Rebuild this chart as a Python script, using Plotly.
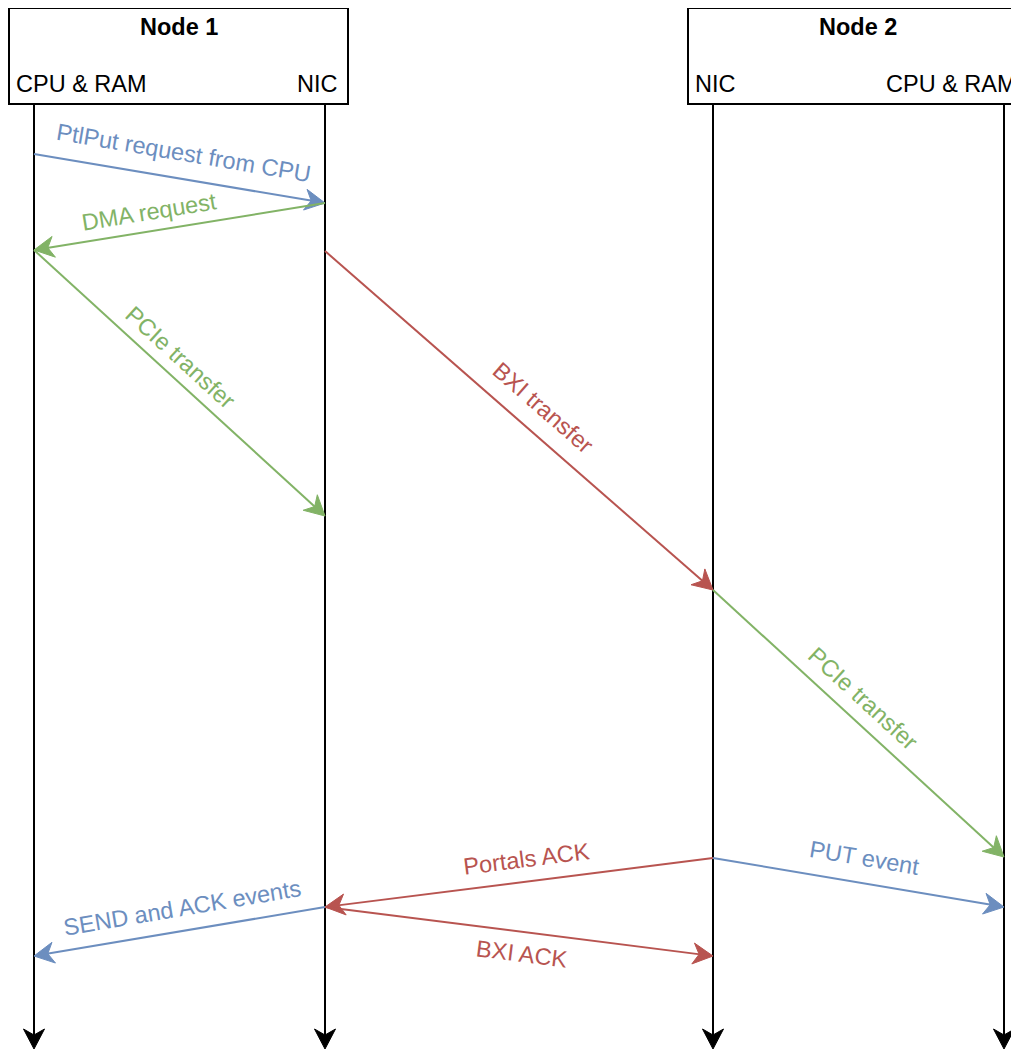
import math
import plotly.graph_objects as go

# ---------------- data ----------------
lane_names = ["CPU & RAM", "NIC", "NIC", "CPU & RAM"]
lane_x = [34, 325, 713, 1004]
node_titles = ["Node 1", "Node 2"]
node_lanes = [[0, 1], [2, 3]]

msg_labels = ["PtlPut request from CPU", "DMA request", "PCIe transfer",
              "BXI transfer", "PCIe transfer", "Portals ACK", "PUT event",
              "SEND and ACK events", "BXI ACK"]
msg_from = [0, 1, 0, 1, 2, 2, 2, 1, 1]
msg_to = [1, 0, 1, 2, 3, 1, 3, 0, 2]
msg_t0 = [154, 203, 250, 251, 590, 858, 858, 907, 907]
msg_t1 = [203, 250, 516, 590, 857, 907, 907, 956, 956]
msg_kind = ["cpu", "pcie", "pcie", "bxi", "pcie", "bxi", "cpu", "cpu", "bxi"]

# ---------------- style ----------------
kind_color = {"cpu": "#6C8EBF", "pcie": "#82B366", "bxi": "#B85450"}
# (offset along the line, offset perpendicular "up") for each label, px
label_shift = [(0, 26), (-28, 19.5), (-16, 19.5), (10, 25.5), (-13, 22),
               (10, 22.5), (2, 25.5), (6, 23), (6, -21.5)]
FONT = "Liberation Sans, Arial, Helvetica, sans-serif"
FS = 23.5
W, H = 1019, 1050
PAGE_OFF = 8  # default body margin of the html page
HEAD_TOP, HEAD_BOTTOM = 8, 104
LIFE_END = 1049
HEAD_LEN, HEAD_HALF, HEAD_NOTCH = 20, 10.5, 14
LW = 2

fig = go.Figure()
fig.add_trace(go.Scatter(x=[100], y=[100], mode="markers",
                         marker=dict(opacity=0), hoverinfo="skip",
                         showlegend=False))

shapes = []
annotations = []


def arrow(x0, y0, x1, y1, color):
    dx, dy = x1 - x0, y1 - y0
    L = math.hypot(dx, dy)
    ux, uy = dx / L, dy / L
    nx, ny = -uy, ux
    ex, ey = x1 - HEAD_NOTCH * ux, y1 - HEAD_NOTCH * uy
    shapes.append(dict(type="line", xref="x", yref="y", x0=x0, y0=y0,
                       x1=ex + ux, y1=ey + uy,
                       line=dict(color=color, width=LW)))
    bx, by = x1 - HEAD_LEN * ux, y1 - HEAD_LEN * uy
    p1 = (bx + HEAD_HALF * nx, by + HEAD_HALF * ny)
    p2 = (bx - HEAD_HALF * nx, by - HEAD_HALF * ny)
    path = "M {:.2f},{:.2f} L {:.2f},{:.2f} L {:.2f},{:.2f} L {:.2f},{:.2f} Z".format(
        x1, y1, p1[0], p1[1], ex, ey, p2[0], p2[1])
    shapes.append(dict(type="path", xref="x", yref="y", path=path,
                       fillcolor=color, line=dict(color=color, width=1)))


# node boxes and header texts
for title, lanes in zip(node_titles, node_lanes):
    left = lane_x[lanes[0]] - 25
    right = lane_x[lanes[-1]] + 23
    shapes.append(dict(type="rect", xref="x", yref="y", x0=left, x1=right,
                       y0=HEAD_TOP, y1=HEAD_BOTTOM,
                       line=dict(color="black", width=2),
                       fillcolor="white", layer="below"))
    annotations.append(dict(x=(left + right) / 2, y=27, xref="x", yref="y",
                            text="<b>" + title + "</b>", showarrow=False,
                            font=dict(family=FONT, size=FS, color="black"),
                            xanchor="center", yanchor="middle"))
    annotations.append(dict(x=left + 5, y=84, xref="x", yref="y",
                            text=lane_names[lanes[0]], showarrow=False,
                            font=dict(family=FONT, size=FS, color="black"),
                            xanchor="left", yanchor="middle"))
    annotations.append(dict(x=right - 8, y=84, xref="x", yref="y",
                            text=lane_names[lanes[-1]], showarrow=False,
                            font=dict(family=FONT, size=FS, color="black"),
                            xanchor="right", yanchor="middle"))

# lifelines
for lx in lane_x:
    arrow(lx, HEAD_BOTTOM, lx, LIFE_END, "black")

# messages
for i in range(len(msg_labels)):
    x0, y0 = lane_x[msg_from[i]], msg_t0[i]
    x1, y1 = lane_x[msg_to[i]], msg_t1[i]
    col = kind_color[msg_kind[i]]
    arrow(x0, y0, x1, y1, col)
    if x0 <= x1:
        pl, pr = (x0, y0), (x1, y1)
    else:
        pl, pr = (x1, y1), (x0, y0)
    dx, dy = pr[0] - pl[0], pr[1] - pl[1]
    L = math.hypot(dx, dy)
    ux, uy = dx / L, dy / L
    nx, ny = uy, -ux
    mx, my = (pl[0] + pr[0]) / 2, (pl[1] + pr[1]) / 2
    a, p = label_shift[i]
    cx = mx + a * ux + p * nx
    cy = my + a * uy + p * ny
    ang = math.degrees(math.atan2(dy, dx))
    annotations.append(dict(x=cx, y=cy, xref="x", yref="y",
                            text=msg_labels[i], showarrow=False,
                            textangle=ang,
                            font=dict(family=FONT, size=FS, color=col),
                            xanchor="center", yanchor="middle"))

fig.update_layout(
    width=W, height=H,
    margin=dict(l=0, r=0, t=0, b=0),
    paper_bgcolor="white", plot_bgcolor="white",
    xaxis=dict(range=[PAGE_OFF, W + PAGE_OFF], visible=False, fixedrange=True),
    yaxis=dict(range=[H + PAGE_OFF, PAGE_OFF], visible=False, fixedrange=True),
    shapes=shapes, annotations=annotations, showlegend=False,
)

fig.write_html("out.html")
